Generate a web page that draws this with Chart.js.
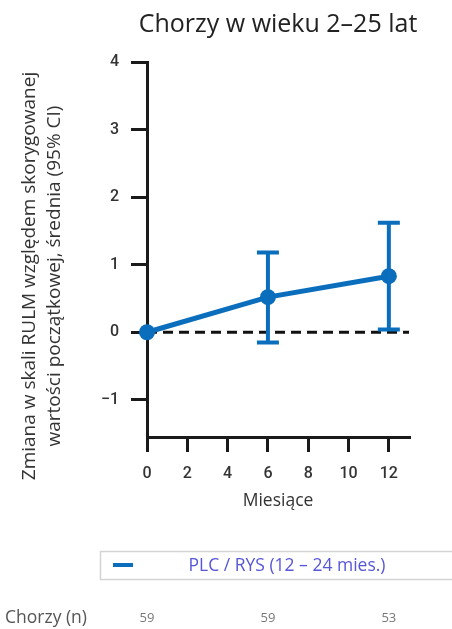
<!DOCTYPE html>
<html>
<head>
<meta charset="utf-8">
<script src="https://cdn.jsdelivr.net/npm/chart.js@4"></script>
<style>
html,body{margin:0;padding:0;background:#fff;}
#wrap{position:relative;width:452px;height:629px;}
</style>
</head>
<body>
<div id="wrap"><canvas id="c" width="452" height="629"></canvas></div>
<script>
// ---- data ----
const chartTitle = 'Chorzy w wieku 2–25 lat';
const yTitleLines = ['Zmiana w skali RULM względem skorygowanej', 'wartości początkowej, średnia (95% CI)'];
const xTitle = 'Miesiące';
const seriesLabel = 'PLC / RYS (12 – 24 mies.)';
const months = [0, 6, 12];
const meanChange = [0, 0.52, 0.83];
const ciLower = [null, -0.15, 0.04];
const ciUpper = [null, 1.18, 1.62];
const baselineX = [0, 13];
const baselineY = [0, 0];
const patientsLabel = 'Chorzy (n)';
const patientsN = [59, 59, 53];
const xTicks = [0, 2, 4, 6, 8, 10, 12];
const yTicks = [-1, 0, 1, 2, 3, 4];

const BLUE = '#0a6ebd';
const FONT = '"Open Sans", "Noto Sans", sans-serif';

const extras = {
  id: 'extras',
  afterDatasetsDraw(chart) {
    const ctx = chart.ctx;
    const xs = chart.scales.x, ys = chart.scales.y;
    ctx.save();
    ctx.strokeStyle = BLUE;
    ctx.lineWidth = 4;
    ctx.lineCap = 'butt';
    months.forEach((m, i) => {
      if (ciLower[i] === null) return;
      const x = xs.getPixelForValue(m);
      const y1 = ys.getPixelForValue(ciLower[i]);
      const y2 = ys.getPixelForValue(ciUpper[i]);
      ctx.beginPath();
      ctx.moveTo(x, y1); ctx.lineTo(x, y2);
      ctx.moveTo(x - 11, y1); ctx.lineTo(x + 11, y1);
      ctx.moveTo(x - 11, y2); ctx.lineTo(x + 11, y2);
      ctx.stroke();
    });
    ctx.restore();
  },
  afterDraw(chart) {
    const ctx = chart.ctx;
    const xs = chart.scales.x;
    const area = chart.chartArea;
    ctx.save();
    ctx.fillStyle = '#222';
    ctx.font = '25px ' + FONT;
    ctx.textAlign = 'center';
    ctx.textBaseline = 'middle';
    ctx.fillText(chartTitle, (area.left + area.right) / 2, 25);
    ctx.save();
    ctx.translate(30, 276);
    ctx.rotate(-Math.PI / 2);
    ctx.fillStyle = '#333';
    ctx.font = '19px ' + FONT;
    ctx.fillText(yTitleLines[0], 0, 0);
    ctx.fillText(yTitleLines[1], 0, 25);
    ctx.restore();
    ctx.strokeStyle = '#d4d4d4';
    ctx.lineWidth = 1.5;
    ctx.strokeRect(100.5, 551.5, 360, 28);
    ctx.strokeStyle = BLUE;
    ctx.lineWidth = 4;
    ctx.beginPath();
    ctx.moveTo(113, 565); ctx.lineTo(133, 565);
    ctx.stroke();
    ctx.fillStyle = '#5656d6';
    ctx.font = '17.5px ' + FONT;
    ctx.textAlign = 'center';
    ctx.fillText(seriesLabel, 287, 566);
    ctx.fillStyle = '#555';
    ctx.textAlign = 'left';
    ctx.font = '17.5px ' + FONT;
    ctx.fillText(patientsLabel, 5, 618);
    ctx.fillStyle = '#777';
    ctx.textAlign = 'center';
    ctx.font = '13px ' + FONT;
    months.forEach((m, i) => {
      ctx.fillText(String(patientsN[i]), xs.getPixelForValue(m), 618);
    });
    ctx.restore();
  }
};

new Chart(document.getElementById('c'), {
  type: 'line',
  data: {
    datasets: [
      {
        label: 'baseline',
        data: baselineX.map((x, i) => ({x, y: baselineY[i]})),
        borderColor: '#111',
        borderWidth: 3,
        borderDash: [10, 6],
        pointRadius: 0,
        fill: false,
        order: 2,
        clip: false
      },
      {
        label: seriesLabel,
        data: months.map((m, i) => ({x: m, y: meanChange[i]})),
        borderColor: BLUE,
        backgroundColor: BLUE,
        borderWidth: 5,
        pointRadius: 8,
        pointBorderWidth: 0,
        pointBackgroundColor: BLUE,
        fill: false,
        order: 1,
        clip: false
      }
    ]
  },
  options: {
    responsive: false,
    animation: false,
    layout: {padding: {left: 0, right: 43, top: 62, bottom: 117}},
    plugins: {
      legend: {display: false},
      title: {display: false},
      tooltip: {enabled: false}
    },
    scales: {
      x: {
        type: 'linear',
        min: 0, max: 13,
        afterBuildTicks(s) { s.ticks = xTicks.map(v => ({value: v})); },
        afterFit(s) { s.height = 75; },
        ticks: {
          includeBounds: false,
          padding: 12,
          color: '#333',
          font: {family: 'Roboto, sans-serif', size: 16, weight: 500},
          maxRotation: 0
        },
        grid: {drawOnChartArea: false, tickLength: 15, lineWidth: 3, tickWidth: 3, tickColor: '#1a1a1a'},
        border: {display: true, color: '#1a1a1a', width: 3},
        title: {display: true, text: xTitle, color: '#333', font: {family: FONT, size: 17.5}, padding: 0}
      },
      y: {
        type: 'linear',
        min: -1.55, max: 4,
        afterBuildTicks(s) { s.ticks = yTicks.map(v => ({value: v})); },
        afterFit(s) { s.width = 147; },
        ticks: {
          includeBounds: false,
          padding: 12,
          color: '#333',
          font: {family: 'Roboto, sans-serif', size: 16, weight: 500},
          callback: v => v < 0 ? '\u2212' + Math.abs(v) : String(v)
        },
        grid: {drawOnChartArea: false, tickLength: 16, lineWidth: 3, tickWidth: 3, tickColor: '#1a1a1a'},
        border: {display: true, color: '#1a1a1a', width: 3}
      }
    }
  },
  plugins: [extras]
});
</script>
</body>
</html>
